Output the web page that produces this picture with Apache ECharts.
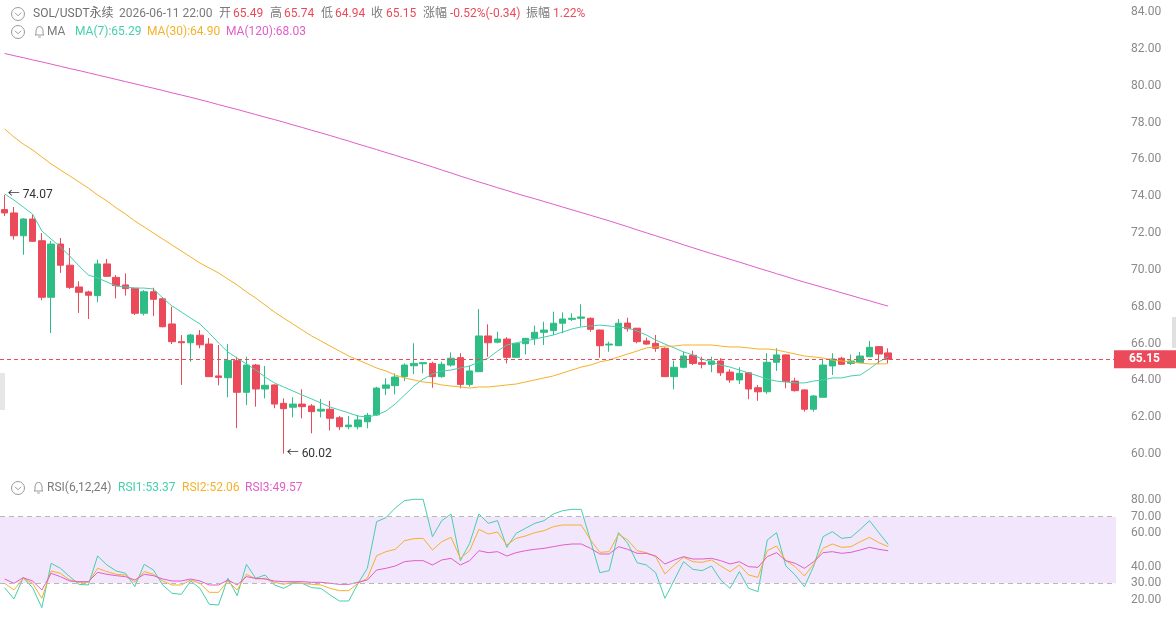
<!DOCTYPE html>
<html>
<head>
<meta charset="utf-8">
<title>SOL/USDT</title>
<script src="https://cdn.jsdelivr.net/npm/echarts@6/dist/echarts.min.js"></script>
<style>
  html, body { margin: 0; padding: 0; background: #fff; }
  #main { width: 1176px; height: 617px; }
</style>
</head>
<body>
<div id="main"></div>
<script>
// K线数据（从左到右）
var opens = [73.27,73.09,71.85,72.76,71.58,68.51,71.40,70.25,69.07,68.80,
  68.60,70.32,69.59,69.18,69.00,67.64,68.81,68.43,67.06,66.10,
  66.04,66.45,65.97,64.24,64.14,65.07,63.35,64.83,63.53,63.75,
  62.75,62.54,62.71,62.61,62.33,62.43,61.97,61.48,61.48,61.75,
  62.12,63.57,63.71,64.20,64.79,64.90,64.92,64.20,64.83,65.23,
  63.78,64.47,66.41,66.07,66.24,65.25,65.99,66.28,66.61,66.70,
  67.10,67.31,67.37,67.37,66.73,65.92,65.88,67.11,66.83,66.14,
  66.01,65.74,64.20,64.71,65.36,64.96,64.87,65.05,64.45,64.02,
  64.41,63.60,63.38,64.98,65.38,63.96,63.48,62.43,63.08,64.78,
  65.20,64.92,64.96,65.28,65.83,65.49];
var closes = [73.09,71.85,72.76,71.55,68.51,71.40,70.25,69.05,68.78,68.62,
  70.32,69.65,69.14,68.98,67.64,68.81,68.40,66.91,66.10,66.04,
  66.46,65.93,64.20,64.16,65.08,63.35,64.83,63.53,63.73,62.71,
  62.46,62.71,62.57,62.30,62.43,61.94,61.48,61.57,61.85,62.10,
  63.58,63.75,64.18,64.83,64.92,64.96,64.20,64.87,65.20,63.78,
  64.51,66.41,66.04,66.24,65.25,66.01,66.28,66.61,66.73,67.10,
  67.33,67.37,67.44,66.77,65.88,65.97,67.10,66.80,66.10,65.97,
  65.74,64.20,64.71,65.32,64.92,64.87,65.05,64.41,64.02,64.38,
  63.53,63.38,64.98,65.38,63.93,63.44,62.43,63.15,64.83,65.16,
  64.87,65.05,65.32,65.79,65.43,65.15];
var highs = [74.07,73.41,72.81,72.99,72.00,71.57,71.73,71.19,69.38,68.87,
  70.55,70.59,69.72,69.81,69.01,68.90,69.03,68.52,68.00,66.46,
  66.52,66.73,66.30,65.92,65.97,65.28,65.28,64.89,64.78,63.77,
  63.02,63.08,63.51,62.71,62.99,62.89,62.06,62.06,62.12,62.23,
  63.65,64.11,64.38,64.92,66.01,64.97,65.01,65.01,65.52,65.47,
  64.79,67.87,67.04,66.64,66.34,66.03,66.30,66.97,67.18,67.73,
  67.69,67.64,68.13,67.41,66.76,66.10,67.33,67.40,66.84,66.32,
  66.46,65.79,65.07,65.55,65.61,65.28,65.28,65.20,64.60,64.71,
  64.45,63.75,65.47,65.74,65.41,64.14,63.50,63.20,65.10,65.47,
  65.28,65.41,65.54,66.14,65.86,65.74];
var lows = [72.92,71.64,70.82,71.51,68.35,66.57,69.83,68.96,67.66,67.33,
  68.24,69.61,68.45,68.60,67.55,67.52,67.49,66.88,65.97,63.75,
  65.01,65.74,64.18,63.73,63.08,61.40,62.66,62.57,63.02,62.48,
  60.02,61.99,61.94,61.12,61.99,61.27,61.30,61.34,61.34,61.40,
  62.06,63.20,63.24,63.96,64.34,64.38,63.60,64.14,64.74,63.57,
  63.65,64.45,65.28,66.01,64.92,65.24,65.41,65.92,65.92,66.46,
  66.55,67.22,66.91,66.64,65.23,65.55,65.86,66.64,66.01,65.93,
  65.55,64.18,63.51,64.65,64.83,64.65,64.44,64.24,63.87,63.80,
  62.97,62.89,63.26,64.51,63.57,63.39,62.30,62.30,63.07,64.29,
  64.83,64.83,64.94,65.27,64.89,64.94];

// 均线
var ma7 = [74.12,73.79,73.41,73.03,72.11,71.67,71.24,70.75,70.21,69.72,
  69.56,69.34,69.12,69.07,69.01,69.01,68.96,68.47,68.04,67.71,
  67.38,67.06,66.57,66.03,65.54,65.21,64.89,64.56,64.18,63.86,
  63.64,63.42,63.20,62.99,62.77,62.55,62.39,62.23,62.06,62.01,
  62.12,62.33,62.72,63.20,63.69,64.07,64.34,64.51,64.56,64.67,
  64.78,65.00,65.21,65.59,65.92,66.03,66.14,66.24,66.35,66.46,
  66.62,66.79,66.90,66.95,67.00,66.95,66.90,66.84,66.68,66.46,
  66.19,65.97,65.76,65.54,65.38,65.16,65.00,64.83,64.72,64.56,
  64.40,64.24,64.07,63.96,63.91,63.86,63.86,63.96,64.02,64.13,
  64.13,64.24,64.29,64.62,65.00,65.29];
var ma30 = [77.65,77.21,76.83,76.51,76.13,75.75,75.42,75.10,74.77,74.44,
  74.06,73.74,73.36,73.03,72.65,72.33,72.00,71.67,71.35,71.02,
  70.70,70.37,70.10,69.83,69.50,69.18,68.80,68.47,68.09,67.71,
  67.38,67.06,66.73,66.41,66.14,65.86,65.59,65.32,65.10,64.89,
  64.67,64.51,64.29,64.13,64.02,63.91,63.86,63.75,63.69,63.64,
  63.58,63.64,63.64,63.69,63.75,63.80,63.91,64.02,64.13,64.24,
  64.40,64.56,64.72,64.83,65.00,65.10,65.27,65.43,65.59,65.76,
  65.81,65.86,65.86,65.92,65.92,65.92,65.92,65.86,65.81,65.81,
  65.76,65.70,65.70,65.65,65.54,65.43,65.32,65.27,65.21,65.10,
  65.05,65.00,64.94,64.89,64.89,64.90];
var ma120 = [81.75,81.63,81.52,81.40,81.29,81.17,81.05,80.93,80.82,80.70,
  80.58,80.46,80.34,80.22,80.10,79.98,79.86,79.74,79.61,79.49,
  79.37,79.24,79.11,78.97,78.84,78.71,78.57,78.43,78.29,78.16,
  78.02,77.87,77.73,77.58,77.44,77.29,77.14,76.99,76.83,76.68,
  76.53,76.37,76.22,76.06,75.91,75.75,75.59,75.42,75.26,75.09,
  74.93,74.77,74.62,74.46,74.31,74.15,74.00,73.86,73.71,73.56,
  73.41,73.26,73.11,72.96,72.81,72.66,72.50,72.34,72.17,72.01,
  71.85,71.69,71.53,71.36,71.20,71.04,70.88,70.73,70.57,70.42,
  70.26,70.10,69.95,69.79,69.64,69.48,69.33,69.19,69.04,68.90,
  68.75,68.61,68.46,68.32,68.17,68.03];

// RSI(6,12,24)
var rsi1 = [27.4,20.6,33.4,27.4,15.4,42.0,39.0,34.0,29.4,29.0,
  46.4,41.0,37.4,36.0,28.0,41.4,38.0,29.0,24.0,23.4,
  31.4,27.0,17.4,17.0,33.0,22.6,41.4,33.0,35.0,29.0,
  27.0,30.0,30.0,27.4,27.0,23.0,19.4,19.4,30.0,39.0,
  67.0,69.4,75.2,79.6,80.4,80.4,58.0,67.6,71.6,43.6,
  54.0,71.6,66.0,67.6,51.6,60.0,63.0,66.0,67.6,71.6,
  73.6,74.4,74.4,55.6,36.4,37.6,60.4,54.0,42.4,41.0,
  36.4,21.0,32.0,43.0,38.4,37.6,40.4,32.0,27.0,37.0,
  27.0,25.0,56.0,60.4,40.4,35.0,28.0,40.4,58.0,61.0,
  57.0,57.6,62.4,67.6,60.4,53.37];
var rsi2 = [30.0,26.0,33.0,30.0,21.0,37.4,36.0,32.0,30.6,30.6,
  39.0,37.0,35.4,35.0,30.6,37.0,35.4,31.4,29.0,29.0,
  32.0,30.0,24.6,24.6,31.4,26.0,35.4,32.6,33.0,30.6,
  29.4,30.6,30.0,29.4,29.0,27.0,25.6,25.6,30.0,33.0,
  46.6,49.0,50.4,55.6,56.8,57.0,50.0,55.0,57.6,45.0,
  49.6,62.4,59.6,60.8,53.0,57.0,58.4,60.4,61.6,64.0,
  65.0,65.0,65.0,56.0,48.6,49.0,59.4,56.0,49.6,48.4,
  46.0,35.6,41.0,45.6,43.0,42.6,44.0,40.4,37.0,41.0,
  35.0,33.6,49.6,52.4,43.6,40.0,34.4,41.6,51.0,53.6,
  51.6,52.0,55.0,57.6,54.4,52.06];
var rsi3 = [32.6,30.0,33.4,31.4,26.0,36.0,34.0,31.4,31.0,31.0,
  36.6,35.4,34.6,34.0,32.0,35.4,34.6,32.6,31.4,31.4,
  32.6,31.4,29.0,29.0,32.0,29.0,34.0,33.0,32.6,31.4,
  31.0,31.0,31.0,30.6,30.6,30.0,29.4,29.4,30.6,32.0,
  38.0,39.0,40.4,43.0,43.6,43.6,41.0,44.0,45.0,41.0,
  43.6,49.6,48.4,49.0,46.4,48.4,49.6,50.4,51.0,52.0,
  53.0,53.6,53.6,51.0,47.6,47.6,52.0,50.4,48.0,48.0,
  46.4,41.6,44.0,46.0,44.6,44.6,45.0,43.6,41.6,43.0,
  40.0,39.6,46.0,48.4,43.6,42.0,39.0,43.0,48.4,49.0,
  48.0,48.6,50.0,51.6,50.4,49.57];

var priceTicks = [60, 84, 2];
var rsiTickLabels = [20, 30, 40, 60, 70, 80];
var lastClose = 65.15;
var highMark = [0, 74.07];
var lowMark = [30, 60.02];

// 分类轴：每小时一根，右侧留空
var slots = 120;
var categories = [];
var endTime = new Date(2026, 5, 11, 22, 0);
for (var i = 0; i < slots; i++) {
  var d = new Date(endTime.getTime() + (i - (closes.length - 1)) * 3600000);
  categories.push(d.getMonth() + 1 + '/' + d.getDate() + ' ' + d.getHours() + ':00');
}

var kdata = [];
for (var k = 0; k < closes.length; k++) {
  kdata.push([opens[k], closes[k], lows[k], highs[k]]);
}

var UP = '#2ebd85', DOWN = '#ea4a5a';
var C7 = '#45cfae', C30 = '#f5b12a', C120 = '#e05ec8';
var GRAY = '#8a8a8a', LABEL = '#7a7a7a';
var FONT = 'Roboto, "Noto Sans CJK SC", sans-serif';

function txt(x, y, s, color) {
  return { type: 'text', x: x, y: y, silent: true, z: 10,
    style: { text: s, fill: color, font: '12px ' + FONT, verticalAlign: 'middle' } };
}
function ring(cx, cy) {
  return [
    { type: 'circle', silent: true, z: 10, shape: { cx: cx, cy: cy, r: 6.5 }, style: { fill: 'none', stroke: '#9a9a9a', lineWidth: 1 } },
    { type: 'polyline', silent: true, z: 10, shape: { points: [[cx - 3, cy - 1.2], [cx, cy + 1.8], [cx + 3, cy - 1.2]] }, style: { fill: 'none', stroke: '#9a9a9a', lineWidth: 1 } }
  ];
}
function bell(cx, cy) {
  return [
    { type: 'polyline', silent: true, z: 10,
      shape: { points: [[cx - 4.5, cy + 3.5], [cx - 3.5, cy + 2.5], [cx - 3.5, cy - 1.5], [cx - 2, cy - 4.5], [cx, cy - 5], [cx + 2, cy - 4.5], [cx + 3.5, cy - 1.5], [cx + 3.5, cy + 2.5], [cx + 4.5, cy + 3.5], [cx - 4.5, cy + 3.5]] },
      style: { fill: 'none', stroke: '#9a9a9a', lineWidth: 1 } },
    { type: 'line', silent: true, z: 10, shape: { x1: cx - 1.3, y1: cy + 5.5, x2: cx + 1.3, y2: cy + 5.5 }, style: { stroke: '#9a9a9a', lineWidth: 1 } }
  ];
}

var header = [].concat(
  ring(18, 14),
  [
    txt(33, 14, 'SOL/USDT永续', '#6f6f6f'),
    txt(119, 14, '2026-06-11 22:00', LABEL),
    txt(219, 14, '开', LABEL), txt(233, 14, '65.49', DOWN),
    txt(270, 14, '高', LABEL), txt(284, 14, '65.74', DOWN),
    txt(321, 14, '低', LABEL), txt(335, 14, '64.94', DOWN),
    txt(371, 14, '收', LABEL), txt(386, 14, '65.15', DOWN),
    txt(423, 14, '涨幅', LABEL), txt(450, 14, '-0.52%(-0.34)', DOWN),
    txt(526, 14, '振幅', LABEL), txt(553, 14, '1.22%', DOWN)
  ],
  ring(18, 32), bell(39.5, 31.5),
  [
    txt(47, 32, 'MA', LABEL),
    txt(75, 32, 'MA(7):65.29', C7),
    txt(147, 32, 'MA(30):64.90', C30),
    txt(226, 32, 'MA(120):68.03', C120)
  ],
  ring(18, 488), bell(38.5, 487.5),
  [
    txt(47, 488, 'RSI(6,12,24)', LABEL),
    txt(118, 488, 'RSI1:53.37', C7),
    txt(182, 488, 'RSI2:52.06', C30),
    txt(245, 488, 'RSI3:49.57', C120),
    { type: 'rect', silent: true, z: 10, shape: { x: 0, y: 373, width: 5, height: 37 }, style: { fill: '#e6e6e6' } },
    { type: 'rect', silent: true, z: 10, shape: { x: 1172, y: 317, width: 4, height: 31 }, style: { fill: '#e0e0e0' } }
  ]
);

var chart = echarts.init(document.getElementById('main'));

var option = {
  backgroundColor: '#fff',
  animation: false,
  textStyle: { fontFamily: FONT },
  graphic: { elements: header },
  grid: [
    { left: -3, right: 60, top: 12, height: 442 },
    { left: -3, right: 60, top: 483.33, height: 133.33 }
  ],
  xAxis: [
    { type: 'category', gridIndex: 0, data: categories, boundaryGap: true, show: false },
    { type: 'category', gridIndex: 1, data: categories, boundaryGap: true, show: false }
  ],
  yAxis: [
    {
      gridIndex: 0, position: 'right',
      min: priceTicks[0], max: priceTicks[1], interval: priceTicks[2],
      axisLine: { show: false }, axisTick: { show: false }, splitLine: { show: false },
      axisLabel: { color: GRAY, fontSize: 12, margin: 15, formatter: function (v) { return v.toFixed(2); } },
      // 最新价虚线与标签
      axisPointer: {
        show: true, value: lastClose, status: 'show', triggerTooltip: false, triggerOn: 'none',
        lineStyle: { color: DOWN, type: [4, 3], width: 1 },
        label: {
          show: true, margin: 0, precision: 2,
          backgroundColor: DOWN, color: '#fff', fontWeight: 'bold', fontSize: 12,
          padding: [3, 16, 3, 15], borderRadius: 0, shadowBlur: 0
        },
        handle: { show: false }
      }
    },
    {
      gridIndex: 1, position: 'right',
      min: 10, max: 90, interval: 10,
      axisLine: { show: false }, axisTick: { show: false }, splitLine: { show: false },
      axisLabel: {
        color: GRAY, fontSize: 12, margin: 15,
        formatter: function (v) { return rsiTickLabels.indexOf(v) > -1 ? v.toFixed(2) : ''; }
      }
    }
  ],
  series: [
    {
      name: 'K', type: 'candlestick', xAxisIndex: 0, yAxisIndex: 0,
      data: kdata, barWidth: 7,
      itemStyle: { color: UP, color0: DOWN, borderColor: UP, borderColor0: DOWN, borderWidth: 1 },
      markPoint: {
        silent: true, symbol: 'circle', symbolSize: 0,
        label: {
          show: true, position: 'right', distance: 3, color: '#333', fontSize: 12,
          formatter: function (p) { return '← ' + p.value.toFixed(2); }
        },
        data: [
          { coord: [highMark[0], highMark[1]], value: highMark[1] },
          { coord: [lowMark[0], lowMark[1]], value: lowMark[1] }
        ]
      }
    },
    { name: 'MA7', type: 'line', data: ma7, symbol: 'none', lineStyle: { color: C7, width: 1 }, silent: true },
    { name: 'MA30', type: 'line', data: ma30, symbol: 'none', lineStyle: { color: C30, width: 1 }, silent: true },
    { name: 'MA120', type: 'line', data: ma120, symbol: 'none', lineStyle: { color: C120, width: 1 }, silent: true },
    {
      name: 'RSI1', type: 'line', xAxisIndex: 1, yAxisIndex: 1, data: rsi1, symbol: 'none', silent: true,
      lineStyle: { color: C7, width: 1 }, z: 3,
      markArea: { silent: true, itemStyle: { color: '#f2e6fc' }, data: [[{ yAxis: 30 }, { yAxis: 70 }]] },
      markLine: {
        silent: true, symbol: ['none', 'none'], label: { show: false },
        lineStyle: { color: '#b8b8b8', type: [5, 4], width: 1 },
        data: [{ yAxis: 30 }, { yAxis: 70 }]
      }
    },
    { name: 'RSI2', type: 'line', xAxisIndex: 1, yAxisIndex: 1, data: rsi2, symbol: 'none', silent: true, lineStyle: { color: C30, width: 1 }, z: 3 },
    { name: 'RSI3', type: 'line', xAxisIndex: 1, yAxisIndex: 1, data: rsi3, symbol: 'none', silent: true, lineStyle: { color: C120, width: 1 }, z: 3 }
  ]
};

chart.setOption(option);
window.onresize = chart.resize;
</script>
</body>
</html>
